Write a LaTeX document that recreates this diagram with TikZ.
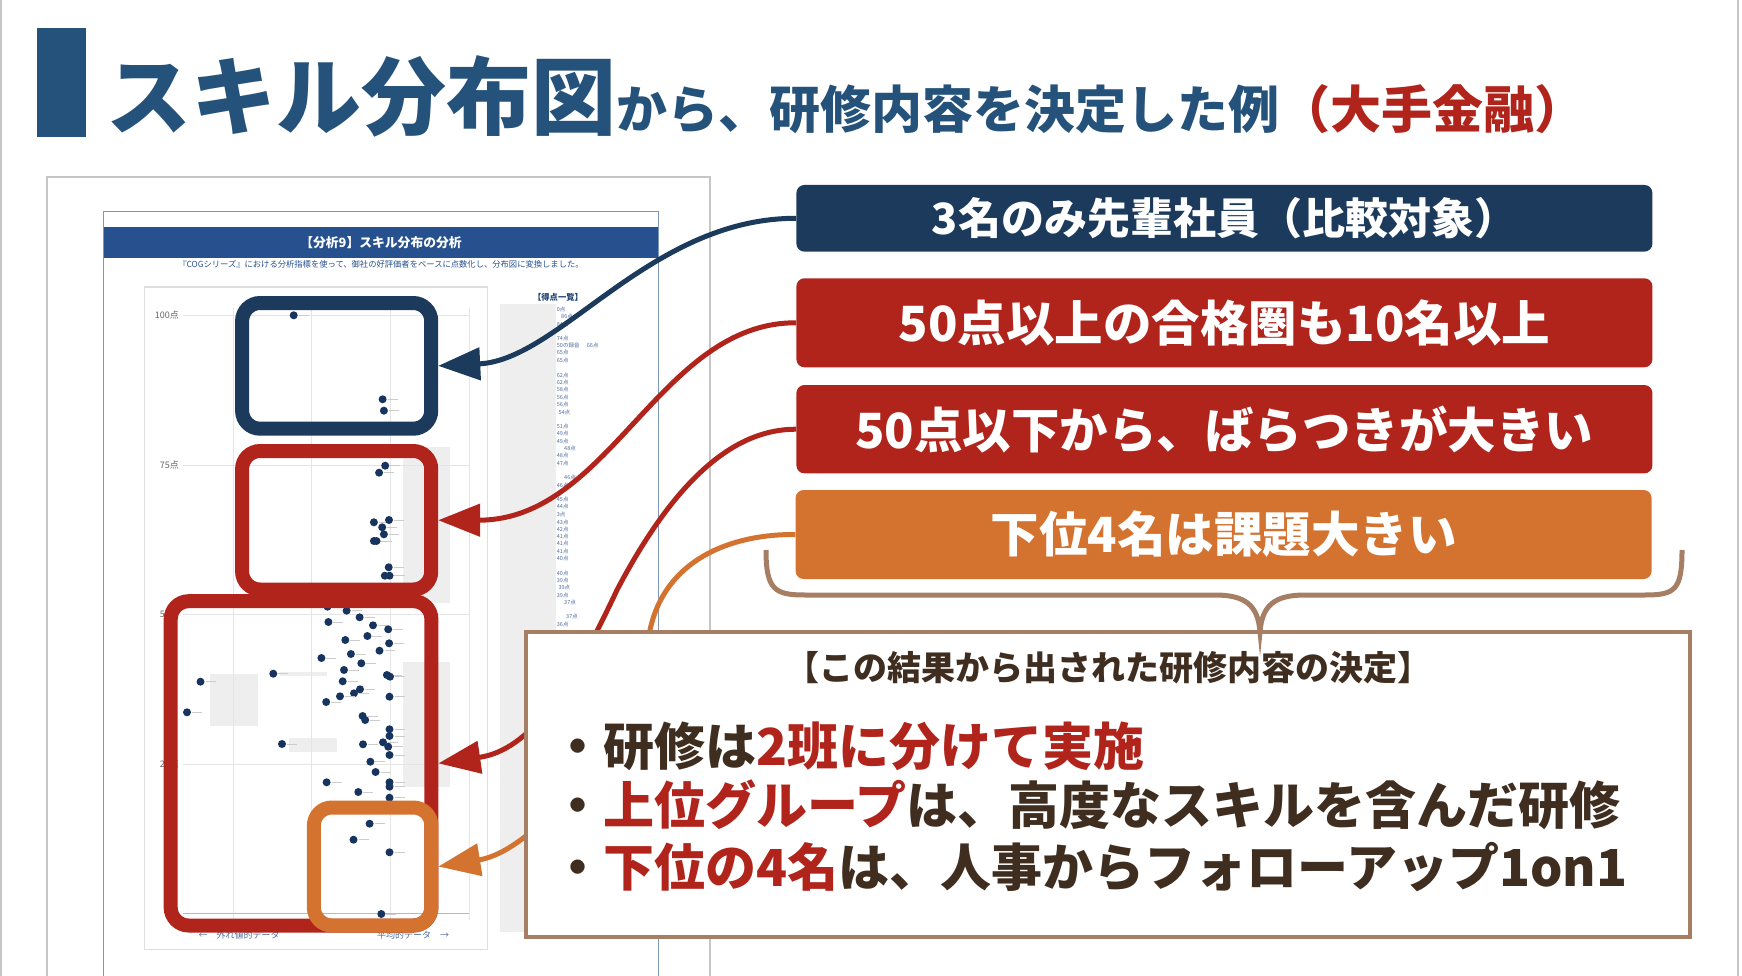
\documentclass[tikz,border=0pt]{standalone}
\usepackage{fontspec}
\setmainfont{Noto Sans CJK JP}
\usetikzlibrary{arrows.meta}

\definecolor{titleblue}{HTML}{24527A}
\definecolor{navyc}{HTML}{1B3A5C}
\definecolor{redc}{HTML}{B0241B}
\definecolor{orangec}{HTML}{D4732F}
\definecolor{brownc}{HTML}{A57E63}
\definecolor{textbrown}{HTML}{3F2E20}
\definecolor{bandblue}{HTML}{26518E}
\definecolor{dotc}{HTML}{16345E}
\definecolor{scorec}{HTML}{4E6C9C}
\definecolor{paleblock}{HTML}{EEEEEE}

\tikzset{
  hlframe/.style={draw=#1, line width=14pt, rounded corners=18pt, inner sep=0pt},
  tagbox/.style={fill=#1, rounded corners=8pt, minimum width=856pt, inner sep=0pt, text=white, font=\bfseries\fontsize{48.5}{52}\selectfont},
  callout/.style={draw=#1, line width=5pt, -{Triangle[length=42pt,width=32pt]}},
  score/.style={anchor=west, inner sep=0pt, text=scorec, font=\fontsize{5.5}{6}\selectfont},
  bullet/.style={anchor=west, inner sep=0pt, text=textbrown, font=\bfseries\fontsize{51}{54}\selectfont},
}

\begin{document}
\begin{tikzpicture}[x=1pt,y=-1pt]
    \useasboundingbox (0,0) rectangle (1742,976);
    \draw[gray!45, line width=1.5pt] (1,0) -- (1,976) (1738,0) -- (1738,976); % slide edges

    % title
    \fill[titleblue] (37,28) rectangle (86,137);
    \node[anchor=base west, inner sep=0pt, text=titleblue, font=\bfseries] (title) at (106,129)
        {\fontsize{85}{90}\selectfont スキル分布図\fontsize{51}{55}\selectfont から、研修内容を決定した例\textcolor{redc}{（大手金融）}};

    % report page
    \draw[gray!45, line width=2pt, fill=white] (46.5,176.7) rectangle (710,985);
    \draw[bandblue!60, line width=1pt] (103.7,211.7) rectangle (658,990);
    \fill[bandblue] (104,226.7) rectangle (658,258);
    \node[text=white, font=\bfseries\fontsize{12.8}{14}\selectfont] (rtitle) at (381,242.5) {【分析9】スキル分布の分析};
    \node[text=bandblue, font=\fontsize{8.3}{9}\selectfont] (rsub) at (381,264) {『COGシリーズ』における分析指標を使って、御社の好評価者をベースに点数化し、分布図に変換しました。};

    % chart area
    \draw[gray!25, line width=1pt] (144,287) rectangle (487,949);
    \fill[paleblock] (500,304) rectangle (556,932); % score column
    \fill[paleblock] (403.4,446.7) rectangle (450.2,602.7);
    \fill[paleblock] (403.4,661.7) rectangle (450.2,787.3);
    \fill[paleblock] (210.4,674.3) rectangle (257.7,726);
    \fill[paleblock] (279.8,671.7) rectangle (327,676);
    \fill[paleblock] (289.3,738.3) rectangle (337,752.3);
    \foreach \gx in {233,311,390,469}
        \draw[gray!20, line width=0.8pt] (\gx,308) -- (\gx,920);
    \foreach \gy/\glab in {315/100点, 465/75点, 614/50点, 764/25点} {
        \draw[gray!20, line width=1pt] (183,\gy) -- (469,\gy);
        \node[anchor=east, inner sep=0pt, text=black!60, font=\fontsize{9}{10}\selectfont] at (179,\gy) {\glab};
    }
    \draw[gray!55, line width=1pt] (183,913) -- (469,913); % base axis
    \node[text=scorec, font=\fontsize{9}{10}\selectfont] (outl) at (239,935) {←　外れ値的データ};
    \node[text=scorec, font=\fontsize{9}{10}\selectfont] (avg) at (413,935) {平均的データ　→};

    % score list
    \node[text=bandblue!80!black, font=\bfseries\fontsize{8.3}{9}\selectfont] (slist) at (558,297) {【得点一覧】};
    \foreach \sy/\slab/\sx in {309.3/0点/556.7, 316.7/86点/561, 324/84点/556.7, 338.3/74点/556.7,
        345.7/50の録音/556.7, 345.7/66点/586.7, 352.3/65点/556.7, 360.7/65点/556.7, 375/62点/556.7,
        382.7/62点/556.7, 389.7/58点/556.7, 397/56点/556.7, 404.3/56点/556.7, 412/54点/558.3,
        426.3/51点/556.7, 433.7/49点/556.7, 441/49点/556.7, 448.3/48点/564, 455.7/48点/556.7,
        463/47点/556.7, 477.7/46点/564, 485/46点/556.7, 499.3/45点/556.7, 506.7/44点/556.7,
        514.3/3点/556.7, 522/43点/556.7, 529/42点/556.7, 536.7/41点/556.7, 543.7/41点/556.7,
        551/41点/556.7, 558.7/40点/556.7, 573.3/40点/556.7, 580.3/39点/556.7, 587.7/39点/558.3,
        595.3/39点/556.7, 602.7/37点/564, 616.7/37点/566, 624.3/36点/556.7}
        \node[score] at (\sx,\sy) {\slab};

    % members
    \foreach \px/\py in {293.7/315.3, 382.6/399.3, 383.9/410.7, 385.2/465.7, 379.1/472.7,
        373.9/522.3, 389/520, 382.2/527.3, 383.9/534.3, 373.9/541, 376.5/541, 388.7/567.3,
        384.8/575.7, 389.5/575.7, 327.5/606.7, 346.6/610.7, 359.6/617.3, 328.4/622, 373/625.3,
        388.2/629.3, 367.4/636, 389.1/643.3, 345.3/640, 379.5/650.7, 350.9/654, 321.4/658,
        361.3/663.3, 344/670, 273.3/673.7, 386.9/675, 390/676.7, 200.5/681.7, 342.7/681.3,
        360/689.3, 354/693.3, 340/696.3, 389.5/696.7, 326.2/702, 187/712.3, 362.6/716,
        365.2/720, 389.5/729.3, 389.5/736, 282/744, 363/744.3, 383/742.3, 388.2/746.7,
        389.5/755, 370.4/761.7, 375.6/772, 326.6/782.3, 389.5/782.3, 389.5/786.7, 358.3/792,
        389.5/797.7, 369.6/823.7, 353.5/839.7, 389.5/852.3, 381.3/914} {
        \draw[gray!40, line width=0.5pt] (\px+5,\py) -- (\px+15,\py);
        \fill[dotc] (\px,\py) circle (4pt);
    }
    \draw[navyc, line width=2.5pt] (588,985) arc (180:0:13); % page icon

    % highlight frames
    \node[hlframe=navyc, minimum width=189.1pt, minimum height=125.7pt] (topframe) at (336.65,365.85) {};
    \node[hlframe=redc, minimum width=189.1pt, minimum height=138.5pt] (midframe) at (336.65,520.25) {};
    \node[hlframe=redc, minimum width=260.7pt, minimum height=324.3pt] (bigframe) at (301.05,763.35) {};
    \node[hlframe=orangec, minimum width=117.5pt, minimum height=118pt] (lowframe) at (372.65,866.5) {};

    % findings
    \node[tagbox=navyc, minimum height=66.7pt, font=\bfseries\fontsize{43}{46}\selectfont] (tagtop) at (1224.4,218.3) {3名のみ先輩社員（比較対象）};
    \node[tagbox=redc, minimum height=89pt] (tagmid) at (1224.4,322.8) {50点以上の合格圏も10名以上};
    \node[tagbox=redc, minimum height=88.3pt] (tagspread) at (1224.4,429.2) {50点以下から、ばらつきが大きい};
    \node[tagbox=orangec, minimum height=89pt] (taglow) at (1223.6,534.5) {下位4名は課題大きい};

    % arrows
    \draw[callout=navyc] (tagtop.west) .. controls (650,218) and (560,360) .. (topframe.east);
    \draw[callout=redc] (tagmid.west) .. controls (660,322) and (610,520) .. (midframe.east);
    \draw[callout=redc] (tagspread.west) .. controls (740,429) and (680,470) .. (617,590)
        .. controls (570,690) and (530,750) .. (bigframe.east);
    \draw[callout=orangec] (taglow.west) .. controls (730,534) and (665,560) .. (650,630)
        .. controls (630,730) and (540,850) .. (lowframe.east);

    % decision box
    \node[draw=brownc, line width=4pt, fill=white, minimum width=1164pt, minimum height=305pt, inner sep=0pt] (decision) at (1107.5,784.2) {};
    \node[text=textbrown, font=\bfseries\fontsize{34}{36}\selectfont] (dhead) at (1108,668) {【この結果から出された研修内容の決定】};
    \node[bullet] (bone) at (552,746.7) {・研修は\textcolor{redc}{2班に分けて実施}};
    \node[bullet] (btwo) at (552,805) {・\textcolor{redc}{上位グループ}は、高度なスキルを含んだ研修};
    \node[bullet] (bthree) at (552,866.7) {・\textcolor{redc}{下位の4名}は、人事からフォローアップ1on1};

    % brace
    \draw[brownc, line width=5pt] (766,550) .. controls (766,590) and (775,595) .. (805,595) -- (1215,595)
        .. controls (1245,595) and (1258,605) .. (1260,632)
        .. controls (1262,605) and (1275,595) .. (1305,595) -- (1645,595)
        .. controls (1675,595) and (1682,590) .. (1682,550);
\end{tikzpicture}
\end{document}
